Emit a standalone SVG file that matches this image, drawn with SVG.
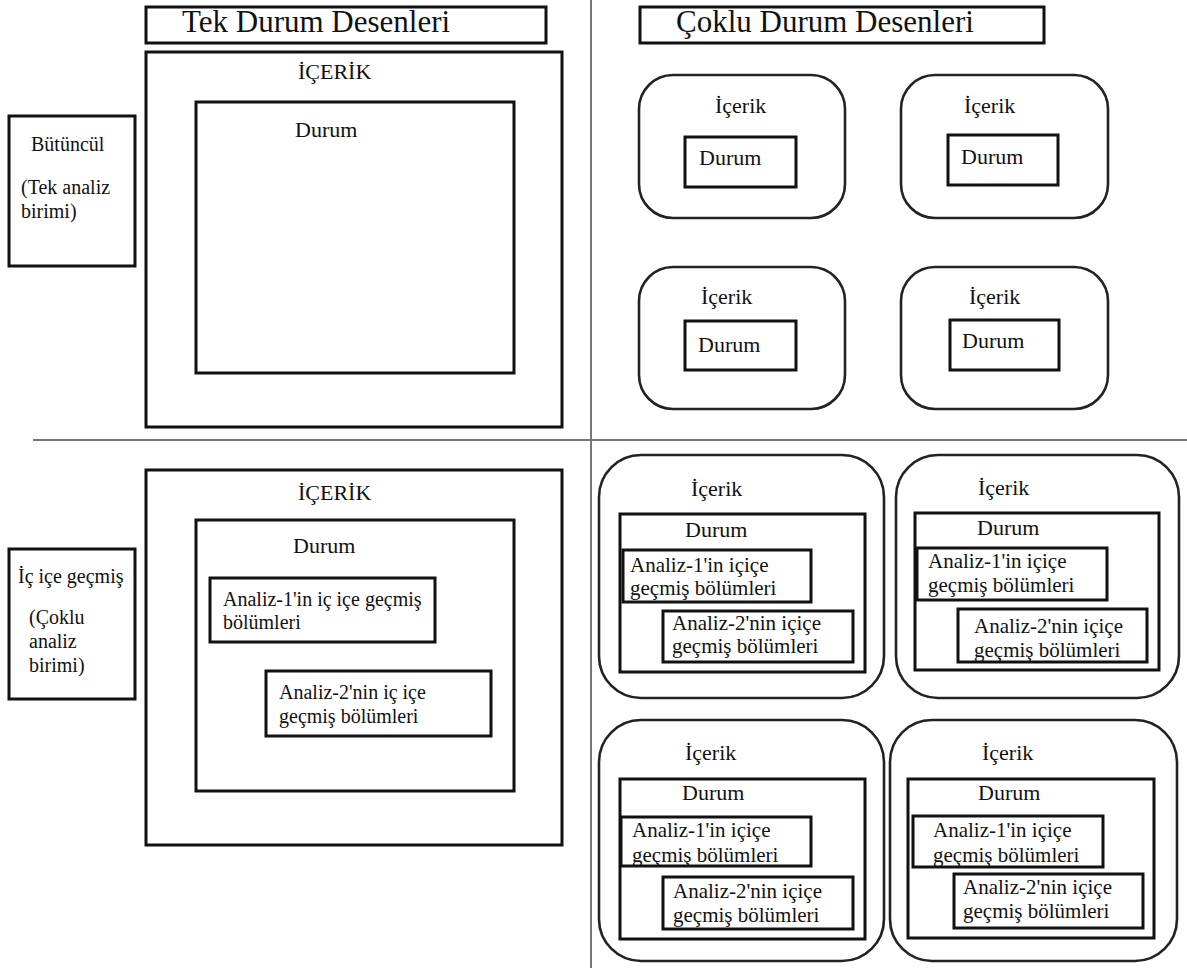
<svg xmlns="http://www.w3.org/2000/svg" width="1187" height="968" viewBox="0 0 1187 968" font-family="'Liberation Serif', 'DejaVu Serif', serif">
<style>
text{font-family:'Liberation Serif','DejaVu Serif',serif;fill:#111}
.b{fill:none;stroke:#111;stroke-width:3}
.r{fill:none;stroke:#222;stroke-width:2.6}
.h{font-size:31px}
.c{font-size:22px}
.s{font-size:20px}
.a{font-size:21px}
.d{stroke:#777;stroke-width:2;fill:none}
</style>
<rect width="1187" height="968" fill="#fff"/>
<g id="dividers">
<line class="d" x1="591" y1="0" x2="591" y2="968"/>
<line class="d" x1="33" y1="440" x2="1187" y2="440"/>
</g>
<g id="title-tek"><rect class="b" x="146" y="7" width="400" height="36"/><text class="h" x="182" y="32">Tek Durum Desenleri</text></g>
<g id="title-coklu"><rect class="b" x="640" y="7" width="404" height="36"/><text class="h" x="676" y="32">Çoklu Durum Desenleri</text></g>

<g id="label-butuncul"><rect class="b" x="9" y="116" width="126" height="150"/>
<text class="s" x="31" y="151">Bütüncül</text><text class="s" x="21" y="194">(Tek analiz</text><text class="s" x="21" y="218">birimi)</text></g>

<g id="single-holistic">
<rect class="b" x="146" y="52" width="416" height="375"/><text class="c" x="298" y="79">İÇERİK</text>
<rect class="b" x="196" y="102" width="318" height="271"/><text class="c" x="295" y="137">Durum</text>
</g>

<g id="multi-holistic-1"><rect class="r" x="639" y="75" width="206" height="143" rx="34"/><text class="c" x="715" y="113">İçerik</text>
<rect class="b" x="685" y="137" width="111" height="50"/><text class="c" x="699" y="165">Durum</text></g>
<g id="multi-holistic-2"><rect class="r" x="901" y="75" width="207" height="143" rx="34"/><text class="c" x="964" y="113">İçerik</text>
<rect class="b" x="948" y="135" width="110" height="50"/><text class="c" x="961" y="164">Durum</text></g>
<g id="multi-holistic-3"><rect class="r" x="639" y="267" width="206" height="142" rx="34"/><text class="c" x="701" y="304">İçerik</text>
<rect class="b" x="685" y="321" width="111" height="49"/><text class="c" x="698" y="352">Durum</text></g>
<g id="multi-holistic-4"><rect class="r" x="901" y="267" width="207" height="142" rx="34"/><text class="c" x="969" y="304">İçerik</text>
<rect class="b" x="950" y="320" width="109" height="50"/><text class="c" x="962" y="348">Durum</text></g>

<g id="label-icice"><rect class="b" x="9" y="549" width="126" height="150"/>
<text class="s" x="18" y="583">İç içe geçmiş</text><text class="s" x="29" y="624">(Çoklu</text><text class="s" x="29" y="648">analiz</text><text class="s" x="29" y="672">birimi)</text></g>

<g id="single-embedded">
<rect class="b" x="146" y="470" width="416" height="375"/><text class="c" x="298" y="500">İÇERİK</text>
<rect class="b" x="196" y="520" width="318" height="271"/><text class="c" x="293" y="553">Durum</text>
<rect class="b" x="210" y="578" width="225" height="64"/><text class="s" x="223" y="606">Analiz-1'in iç içe geçmiş</text><text class="s" x="223" y="629">bölümleri</text>
<rect class="b" x="266" y="671" width="225" height="65"/><text class="s" x="279" y="699">Analiz-2'nin iç içe</text><text class="s" x="279" y="723">geçmiş bölümleri</text>
</g>

<g id="multi-embedded-1"><rect class="r" x="599" y="455" width="285" height="243" rx="42"/><text class="c" x="691" y="496">İçerik</text>
<rect class="b" x="620" y="514" width="245" height="158"/><text class="c" x="685" y="537">Durum</text>
<rect class="b" x="623" y="550" width="188" height="52"/><text class="a" x="630" y="572">Analiz-1'in içiçe</text><text class="a" x="630" y="595">geçmiş bölümleri</text>
<rect class="b" x="663" y="611" width="190" height="51"/><text class="a" x="672" y="630">Analiz-2'nin içiçe</text><text class="a" x="672" y="653">geçmiş bölümleri</text></g>

<g id="multi-embedded-2"><rect class="r" x="896" y="455" width="283" height="243" rx="42"/><text class="c" x="978" y="495">İçerik</text>
<rect class="b" x="915" y="513" width="244" height="157"/><text class="c" x="977" y="535">Durum</text>
<rect class="b" x="917" y="548" width="190" height="52"/><text class="a" x="928" y="568">Analiz-1'in içiçe</text><text class="a" x="928" y="592">geçmiş bölümleri</text>
<rect class="b" x="958" y="609" width="189" height="53"/><text class="a" x="974" y="633">Analiz-2'nin içiçe</text><text class="a" x="974" y="657">geçmiş bölümleri</text></g>

<g id="multi-embedded-3"><rect class="r" x="599" y="720" width="285" height="241" rx="42"/><text class="c" x="685" y="760">İçerik</text>
<rect class="b" x="620" y="779" width="245" height="160"/><text class="c" x="682" y="800">Durum</text>
<rect class="b" x="621" y="817" width="190" height="49"/><text class="a" x="632" y="837">Analiz-1'in içiçe</text><text class="a" x="632" y="862">geçmiş bölümleri</text>
<rect class="b" x="663" y="877" width="190" height="52"/><text class="a" x="673" y="898">Analiz-2'nin içiçe</text><text class="a" x="673" y="922">geçmiş bölümleri</text></g>

<g id="multi-embedded-4"><rect class="r" x="890" y="720" width="287" height="241" rx="42"/><text class="c" x="982" y="760">İçerik</text>
<rect class="b" x="908" y="779" width="246" height="159"/><text class="c" x="978" y="800">Durum</text>
<rect class="b" x="913" y="816" width="190" height="51"/><text class="a" x="933" y="837">Analiz-1'in içiçe</text><text class="a" x="933" y="862">geçmiş bölümleri</text>
<rect class="b" x="954" y="874" width="189" height="54"/><text class="a" x="963" y="894">Analiz-2'nin içiçe</text><text class="a" x="963" y="918">geçmiş bölümleri</text></g>
</svg>
